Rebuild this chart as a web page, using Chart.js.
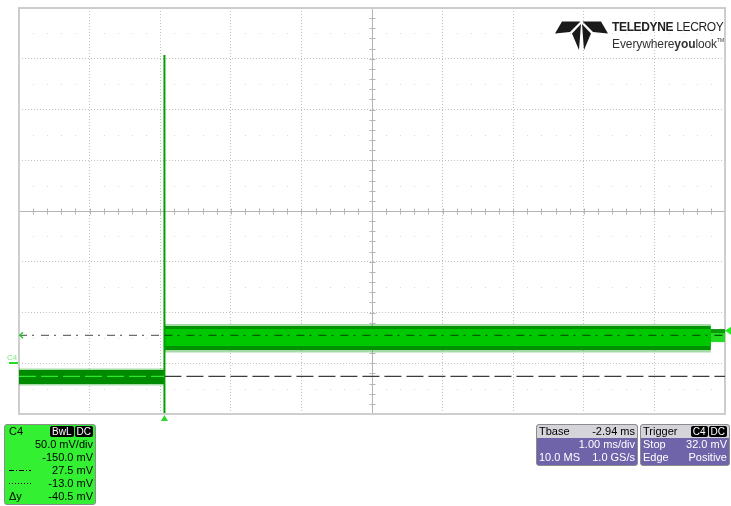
<!DOCTYPE html>
<html>
<head>
<meta charset="utf-8">
<script src="https://cdn.jsdelivr.net/npm/chart.js@4.4.0/dist/chart.umd.min.js"></script>
<style>
  html, body { margin: 0; padding: 0; background: #fff; }
  #wrap { position: relative; width: 731px; height: 506px; overflow: hidden;
          font-family: "Liberation Sans", Arial, sans-serif; }
  #scope { position: absolute; left: 0; top: 0; }
  .box { position: absolute; box-sizing: border-box; border: 1px solid #8c8c8c;
         border-radius: 3px; font-size: 11px; line-height: 13px; overflow: hidden; }
  .row { display: flex; justify-content: space-between; align-items: center; height: 13px; white-space: nowrap; }
  .badge { display: inline-block; background: #000; color: #fff; font-size: 10px; line-height: 11px;
           padding: 0 2px; border-radius: 2px; margin-left: 1px; }
  #chBox { left: 4px; top: 424px; width: 92px; height: 81px; background: #33f033; color: #000;
           padding: 0 2px 0 4px; }
  #tbBox { left: 536px; top: 424px; width: 102px; height: 42px; background: #6f63aa; color: #fff; }
  #trBox { left: 640px; top: 424px; width: 90px; height: 42px; background: #6f63aa; color: #fff; }
  .hdr { background: #d4d4da; color: #000; padding: 0 2px; }
  .body { padding: 0 2px; }
  #logo { position: absolute; left: 555px; top: 20px; }
  #brand { position: absolute; left: 612px; top: 21px; color: #222; white-space: nowrap; }
  #brand .l1 { font-size: 12px; line-height: 12px; letter-spacing: -0.35px; }
  #brand .l2 { font-size: 12px; line-height: 14px; letter-spacing: -0.1px; color: #333; }
  #brand sup { font-size: 5px; vertical-align: 6px; }
</style>
</head>
<body>
<div id="wrap">
  <canvas id="scope" width="731" height="506"></canvas>

  <svg id="logo" width="54" height="31" viewBox="0 0 54 31">
    <polygon points="7,1.5 25.5,1.5 15,12 0,13.5" fill="#1a1a1a"/>
    <polygon points="26,4 17,13.5 24,30" fill="#1a1a1a"/>
    <polygon points="46,1.5 27.5,1.5 38,12 53,13.5" fill="#1a1a1a"/>
    <polygon points="27,4 36,13.5 29,30" fill="#1a1a1a"/>
  </svg>
  <div id="brand">
    <div class="l1"><b>TELEDYNE</b> LECROY</div>
    <div class="l2">Everywhere<b>you</b>look<sup>TM</sup></div>
  </div>

  <div class="box" id="chBox">
    <div class="row"><span>C4</span><span><span class="badge">BwL</span><span class="badge">DC</span></span></div>
    <div class="row"><span></span><span>50.0 mV/div</span></div>
    <div class="row"><span></span><span>-150.0 mV</span></div>
    <div class="row"><svg width="22" height="5"><line x1="0" y1="2.5" x2="22" y2="2.5" stroke="#000" stroke-width="1" stroke-dasharray="5,2,1,2"/></svg><span>27.5 mV</span></div>
    <div class="row"><svg width="22" height="5"><line x1="0" y1="2.5" x2="22" y2="2.5" stroke="#000" stroke-width="1" stroke-dasharray="1,2"/></svg><span>-13.0 mV</span></div>
    <div class="row"><span>&Delta;y</span><span>-40.5 mV</span></div>
  </div>

  <div class="box" id="tbBox">
    <div class="row hdr"><span>Tbase</span><span>-2.94 ms</span></div>
    <div class="row body"><span></span><span>1.00 ms/div</span></div>
    <div class="row body"><span>10.0 MS</span><span>1.0 GS/s</span></div>
  </div>

  <div class="box" id="trBox">
    <div class="row hdr"><span>Trigger</span><span><span class="badge">C4</span><span class="badge">DC</span></span></div>
    <div class="row body"><span>Stop</span><span>32.0 mV</span></div>
    <div class="row body"><span>Edge</span><span>Positive</span></div>
  </div>
</div>

<script>
// Acquisition settings (channel C4, timebase)
const TIME_DIV_MS = 1.00;
const TBASE_MS = -2.94;          // horizontal delay: trigger sits left of centre
const VOLT_DIV_MV = 50.0;
const OFFSET_MV = -150.0;
const TRIG_LEVEL_MV = 32.0;
const GROUND_MV = 0.0;

// Time axis: ms relative to trigger, screen is 10 divisions wide
const centreTime = -TBASE_MS;
const timeMin = centreTime - 5 * TIME_DIV_MS;
const timeMax = centreTime + 5 * TIME_DIV_MS;
const voltCentre = -OFFSET_MV;
const voltMin = voltCentre - 4 * VOLT_DIV_MV;
const voltMax = voltCentre + 4 * VOLT_DIV_MV;

// Trace before the trigger (low level)
const preTime      = [-2.06, 0.00];
const preFringeHi  = [-5.2, -5.2];
const preEnvHi     = [-6.7, -6.7];
const preEnvLo     = [-20.4, -20.4];
const preFringeLo  = [-22.0, -22.0];

// Trace after the trigger (high level)
const postTime     = [0.00, 7.74];
const postFringeHi = [38.6, 38.6];
const postEnvHi    = [36.7, 36.7];
const postCoreHi   = [33.7, 33.7];
const postCoreLo   = [16.9, 16.9];
const postEnvLo    = [13.0, 13.0];
const postFringeLo = [10.6, 10.6];

// Last part of the record
const tailTime     = [7.74, 7.94];
const tailEnvHi    = [33.7, 33.7];
const tailCoreHi   = [29.8, 29.8];
const tailEnvLo    = [20.9, 20.9];

// Edge transient at the trigger point
const edgeTime     = [0.00, 0.00];
const edgeVolt     = [-49.0, 303.7];

// Horizontal cursors
const cursorTime   = [-2.06, 0.00, 7.74, 7.94];
const cursor1Mv    = 27.5;
const cursor2Mv    = -13.0;

const pts = (xs, ys) => xs.map((x, i) => ({ x, y: ys[i] }));
const flat = (xs, v) => xs.map(x => ({ x, y: v }));

const DARK_G   = '#009200';
const BRIGHT_G = '#00c800';
const LOW_G    = '#008a00';
const FRINGE_G = 'rgba(0,150,0,0.35)';

function band(data, fillColor, order, fillTarget) {
  return { data, borderWidth: 0, pointRadius: 0, backgroundColor: fillColor,
           borderColor: 'rgba(0,0,0,0)', fill: fillTarget, order, tension: 0 };
}

const datasets = [
  // 0-1 low level fringe
  band(pts(preTime, preFringeHi), FRINGE_G, 20, '+1'),
  band(pts(preTime, preFringeLo), FRINGE_G, 20, false),
  // 2-3 low level body
  band(pts(preTime, preEnvHi), LOW_G, 19, '+1'),
  band(pts(preTime, preEnvLo), LOW_G, 19, false),
  // 4-5 high level fringe
  band(pts(postTime, postFringeHi), FRINGE_G, 20, '+1'),
  band(pts(postTime, postFringeLo), FRINGE_G, 20, false),
  // 6-7 high level envelope
  band(pts(postTime, postEnvHi), DARK_G, 19, '+1'),
  band(pts(postTime, postEnvLo), DARK_G, 19, false),
  // 8-9 high level core
  band(pts(postTime, postCoreHi), BRIGHT_G, 18, '+1'),
  band(pts(postTime, postCoreLo), BRIGHT_G, 18, false),
  // 10-11 tail envelope
  band(pts(tailTime, tailEnvHi), '#0a9a0a', 19, '+1'),
  band(pts(tailTime, tailEnvLo), '#0a9a0a', 19, false),
  // 12-13 tail core
  band(pts(tailTime, tailCoreHi), '#22dc22', 18, '+1'),
  band(pts(tailTime, tailEnvLo), '#22dc22', 18, false),
  // 14 edge transient
  { data: pts(edgeTime, edgeVolt), borderColor: '#00a000', borderWidth: 2, pointRadius: 0,
    fill: false, order: 5 },
  // 15 cursor 1 (dash-dot)
  { data: flat(cursorTime, cursor1Mv), borderWidth: 1.3, pointRadius: 0, fill: false, order: 3,
    borderColor: '#6e6e6e', borderDash: [8, 5, 2, 7],
    segment: { borderColor: c => c.p0DataIndex === 0 ? '#6e6e6e' : '#005c00' } },
  // 16 cursor 2 (dashed)
  { data: flat(cursorTime, cursor2Mv), borderWidth: 1.3, pointRadius: 0, fill: false, order: 3,
    borderColor: '#3c3c3c', borderDash: [17, 5],
    segment: { borderColor: c => c.p0DataIndex === 0 ? '#2ee82e' : '#3c3c3c' } }
];

// Graticule extras: frame, centre cross with minor ticks, half-division dots, markers
const graticule = {
  id: 'graticule',
  beforeDatasetsDraw(chart) {
    const { ctx, chartArea: a, scales: { x, y } } = chart;
    const dx = (a.right - a.left) / 10, dy = (a.bottom - a.top) / 8;
    ctx.save();
    // faint dots on half-division rows
    ctx.fillStyle = 'rgba(150,150,150,0.35)';
    for (let r = 0; r < 8; r++) {
      const py = Math.round(a.top + (r + 0.5) * dy);
      for (let k = 1; k < 50; k++) {
        if (k % 5 === 0) continue;
        ctx.fillRect(Math.round(a.left + k * dx / 5), py, 1, 1);
      }
    }
    // centre cross
    const cx = Math.round(x.getPixelForValue(centreTime)) + 0.5;
    const cy = Math.round(y.getPixelForValue(voltCentre)) + 0.5;
    ctx.strokeStyle = '#b4b4b4';
    ctx.lineWidth = 1;
    ctx.beginPath();
    ctx.moveTo(cx, a.top); ctx.lineTo(cx, a.bottom);
    ctx.moveTo(a.left, cy); ctx.lineTo(a.right, cy);
    for (let k = 1; k < 50; k++) {
      const px = Math.round(a.left + k * dx / 5) + 0.5;
      ctx.moveTo(px, cy - 3); ctx.lineTo(px, cy + 3);
    }
    for (let k = 1; k < 40; k++) {
      const py = Math.round(a.top + k * dy / 5) + 0.5;
      ctx.moveTo(cx - 3, py); ctx.lineTo(cx + 3, py);
    }
    ctx.stroke();
    // frame
    ctx.strokeStyle = '#cdcdcd';
    ctx.lineWidth = 2;
    ctx.strokeRect(a.left, a.top, a.right - a.left, a.bottom - a.top);
    ctx.restore();
  },
  afterDatasetsDraw(chart) {
    const { ctx, chartArea: a, scales: { x, y } } = chart;
    ctx.save();
    // trigger position marker
    const tx = x.getPixelForValue(0);
    ctx.fillStyle = '#2ed82e';
    ctx.beginPath();
    ctx.moveTo(tx, a.bottom + 1); ctx.lineTo(tx - 3.5, a.bottom + 7); ctx.lineTo(tx + 3.5, a.bottom + 7);
    ctx.closePath(); ctx.fill();
    // trigger level marker
    const ty = y.getPixelForValue(TRIG_LEVEL_MV);
    ctx.fillStyle = '#22ee22';
    ctx.beginPath();
    ctx.moveTo(a.right, ty); ctx.lineTo(a.right + 6, ty - 4); ctx.lineTo(a.right + 6, ty + 4);
    ctx.closePath(); ctx.fill();
    // cursor 1 handle
    const c1 = y.getPixelForValue(cursor1Mv);
    ctx.strokeStyle = '#22cc22'; ctx.lineWidth = 1.5;
    ctx.beginPath();
    ctx.moveTo(a.left + 4, c1 - 3); ctx.lineTo(a.left + 1, c1); ctx.lineTo(a.left + 4, c1 + 3);
    ctx.stroke();
    // channel ground reference
    const gy = Math.round(y.getPixelForValue(GROUND_MV));
    ctx.fillStyle = '#22dd22';
    ctx.fillRect(9, gy - 1, 9, 2);
    ctx.fillStyle = '#7de87d';
    ctx.font = '8px "Liberation Sans", Arial, sans-serif';
    ctx.textBaseline = 'alphabetic';
    ctx.fillText('C4', 7, gy - 3);
    ctx.restore();
  }
};

new Chart(document.getElementById('scope'), {
  type: 'line',
  data: { datasets },
  options: {
    responsive: false,
    devicePixelRatio: 1,
    animation: false,
    parsing: true,
    layout: { padding: { left: 19, top: 8, right: 6, bottom: 92 } },
    plugins: { legend: { display: false }, tooltip: { enabled: false } },
    elements: { line: { tension: 0 } },
    scales: {
      x: {
        type: 'linear', min: timeMin, max: timeMax,
        afterBuildTicks: s => {
          s.ticks = Array.from({ length: 11 }, (_, k) => ({ value: timeMin + k * TIME_DIV_MS }));
        },
        ticks: { display: false },
        grid: { color: '#c2c2c2', lineWidth: 1, drawTicks: false },
        border: { display: false, dash: [1, 2] }
      },
      y: {
        type: 'linear', min: voltMin, max: voltMax,
        ticks: { display: false, stepSize: VOLT_DIV_MV },
        grid: { color: '#c2c2c2', lineWidth: 1, drawTicks: false },
        border: { display: false, dash: [1, 2] }
      }
    }
  },
  plugins: [graticule]
});
</script>
</body>
</html>
